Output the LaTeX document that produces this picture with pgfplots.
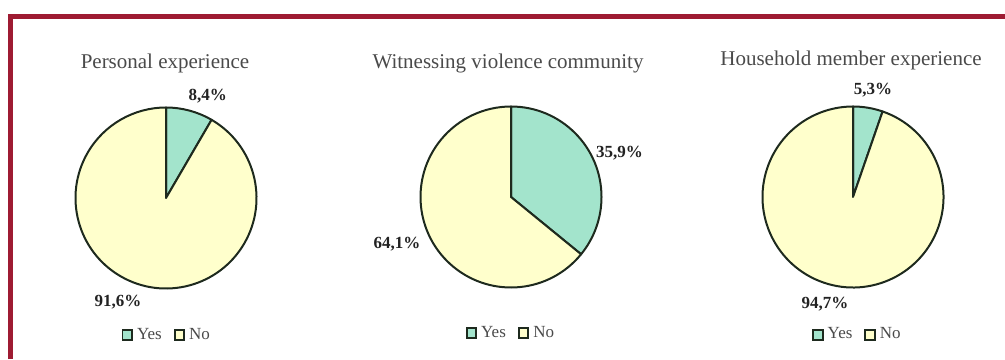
\documentclass[border=0pt]{standalone}
\usepackage{fontspec}
\setmainfont{Liberation Serif}
\usepackage{pgfplots}
\usepackage{pgfplotstable}
\pgfplotsset{compat=1.18}
\definecolor{yescol}{HTML}{A3E4CC}
\definecolor{nocol}{HTML}{FFFFCC}
\definecolor{edgecol}{HTML}{1E2A1E}
\definecolor{framecol}{HTML}{9E1B32}
\definecolor{titlecol}{HTML}{4A4A4A}
\definecolor{labcol}{HTML}{222222}

\pgfplotstableread{
label value
Yes 8.4
No 91.6
}\tblA
\pgfplotstableread{
label value
Yes 35.9
No 64.1
}\tblB
\pgfplotstableread{
label value
Yes 5.3
No 94.7
}\tblC

\pgfplotsset{
  pieaxis/.style={
    width=90.5pt, height=90.5pt, scale only axis,
    xmin=-1, xmax=1, ymin=-1, ymax=1,
    hide axis, clip=false, anchor=origin,
    legend columns=2,
    legend image code/.code={\draw[##1, line width=0.9pt] (0pt,-2.4pt) rectangle (4.8pt,2.4pt);},
    legend style={draw=none, fill=none, anchor=center,
      font=\fontsize{8.5}{9}\selectfont\color{titlecol},
      /tikz/every even column/.append style={column sep=4pt},
      inner sep=0pt, cells={anchor=west}},
  },
}
\newcommand{\getvals}[1]{%
  \pgfplotstablegetelem{0}{value}\of#1\xdef\va{\pgfplotsretval}%
  \pgfplotstablegetelem{1}{value}\of#1\xdef\vb{\pgfplotsretval}%
}
\newcommand{\pieslices}{%
  \filldraw[fill=yescol, draw=edgecol, line width=1pt, line join=round]
    (axis cs:0,0) -- (axis cs:0,1) arc[start angle=90, delta angle={-3.6*\va}, radius=45.25pt] -- cycle;
  \filldraw[fill=nocol, draw=edgecol, line width=1pt, line join=round]
    (axis cs:0,0) -- ++({90-3.6*\va}:45.25pt) arc[start angle={90-3.6*\va}, delta angle={-3.6*\vb}, radius=45.25pt] -- cycle;
  \addlegendimage{fill=yescol, draw=edgecol}
  \addlegendimage{fill=nocol, draw=edgecol}
}
\newcommand{\lab}[3]{\node[font=\fontsize{8.5}{9}\selectfont\bfseries, text=labcol, inner sep=0pt] at (axis cs:#1,#2) {#3};}

\begin{document}
\begin{tikzpicture}[x=0.5pt, y=0.5pt]
\path[use as bounding box] (0,0) rectangle (1005,359);
\draw[framecol, line width=2.5pt, line join=miter] (10.5,0) -- (10.5,342.5) -- (1005,342.5);

% titles
\node[font=\fontsize{10.5}{12}\selectfont, text=titlecol] at (165,296) {Personal experience};
\node[font=\fontsize{10.5}{12}\selectfont, text=titlecol] at (508,296) {Witnessing violence community};
\node[font=\fontsize{10.5}{12}\selectfont, text=titlecol] at (851,299) {Household member experience};

% pie 1
\getvals{\tblA}
\begin{axis}[pieaxis, at={(83pt,80.5pt)}, legend style={at={(0.51,-0.257)}}]
\pieslices
\lab{0.46}{1.12}{8,4\%}
\lab{-0.53}{-1.15}{91,6\%}
\legend{Yes, No}
\end{axis}

% pie 2
\getvals{\tblB}
\begin{axis}[pieaxis, at={(255.5pt,81pt)}, legend style={at={(0.505,-0.251)}}]
\pieslices
\lab{1.20}{0.48}{35,9\%}
\lab{-1.26}{-0.52}{64,1\%}
\legend{Yes, No}
\end{axis}

% pie 3
\getvals{\tblC}
\begin{axis}[pieaxis, at={(426.5pt,81pt)}, legend style={at={(0.53,-0.262)}}]
\pieslices
\lab{0.22}{1.18}{5,3\%}
\lab{-0.31}{-1.18}{94,7\%}
\legend{Yes, No}
\end{axis}
\end{tikzpicture}
\end{document}
